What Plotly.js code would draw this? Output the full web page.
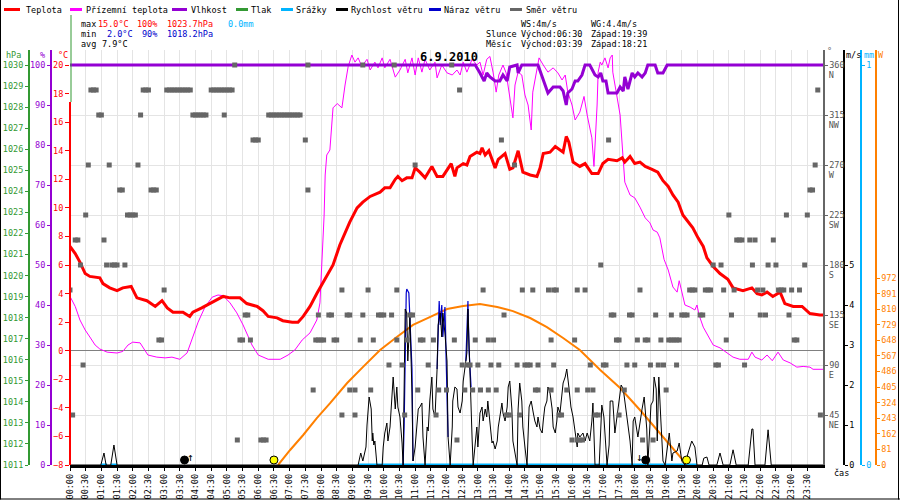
<!DOCTYPE html>
<html><head><meta charset="utf-8">
<script src="https://cdn.plot.ly/plotly-3.0.1.min.js"></script>
<style>html,body{margin:0;padding:0;background:#fff}</style>
</head><body><div id="chart" style="width:900px;height:500px"></div>
<script>
// ---------------- DATA (times in minutes after midnight) ----------------
const xTickLabels = ['00:00','00:30','01:00','01:30','02:00','02:30','03:00','03:30','04:00','04:30','05:00','05:30','06:00','06:30','07:00','07:30','08:00','08:30','09:00','09:30','10:00','10:30','11:00','11:30','12:00','12:30','13:00','13:30','14:00','14:30','15:00','15:30','16:00','16:30','17:00','17:30','18:00','18:30','19:00','19:30','20:00','20:30','21:00','21:30','22:00','22:30','23:00','23:30'];

const tempMin = [0,10,19,29,38,57,63,76,90,101,
117,128,147,163,176,186,197,216,229,235,
252,268,281,293,306,325,338,358,369,379,
396,407,425,436,446,459,472,484,493,503,
516,535,549,560,574,593,602,612,622,627,
635,644,654,660,669,679,692,702,713,729,
736,740,752,759,765,778,784,788,794,801,
813,819,832,841,847,857,866,880,893,899,
905,918,928,943,949,954,962,975,985,998,
1010,1019,1029,1046,1056,1061,1071,1080,1090,1100,
1113,1124,1134,1144,1153,1163,1172,1182,1191,1201,
1211,1218,1230,1243,1258,1268,1287,1304,1314,1323,
1333,1344,1358,1367,1383,1400,1415,1434,1440];
const tempVal = [7.3,6.8,6.2,5.4,5.2,5.1,4.7,4.4,4.2,4.4,
4.5,3.7,3.5,3.1,3.5,3.0,2.7,2.7,2.4,2.7,
3.0,3.3,3.6,3.8,3.7,3.7,3.3,3.1,2.8,2.4,
2.3,2.1,2.0,2.0,2.4,3.1,4.0,4.8,5.3,6.0,
7.4,9.0,10.0,10.4,10.8,11.1,11.4,11.4,12.0,12.2,
11.9,12.1,12.1,12.8,12.5,12.1,12.9,12.2,12.2,13.1,
12.2,12.8,13.1,13.0,13.6,13.9,13.8,14.2,13.7,14.0,
12.8,13.4,13.8,12.7,12.8,14.0,12.5,12.3,12.2,12.8,
13.8,13.9,14.3,13.9,15.0,14.6,13.2,12.9,13.1,12.4,
12.4,13.1,13.4,13.3,13.5,13.2,13.6,13.1,13.2,12.9,
12.7,12.5,11.9,11.5,10.9,10.4,9.5,9.0,8.6,7.9,
7.3,6.5,5.9,5.4,5.0,4.4,4.2,4.4,4.0,3.9,
4.1,3.8,4.1,3.3,3.1,3.1,2.6,2.5,2.5];

const groundMin = [0,10,19,29,38,48,57,71,90,101,
111,120,134,140,149,166,182,195,210,224,
233,245,258,272,283,293,306,319,331,348,
360,379,402,417,430,444,459,472,478,482,
484,486,488,491,497,503,511,520,526,532,
539,545,551,558,568,574,583,589,597,602,
612,622,631,641,646,654,660,666,673,679,
688,698,702,711,721,731,740,746,752,759,
769,778,784,790,797,803,809,815,820,828,
834,840,847,851,857,864,870,876,882,885,
891,897,905,914,924,933,941,947,952,960,
966,975,983,989,998,1002,1008,1010,1014,1017,
1023,1029,1033,1037,1038,1046,1052,1056,1058,1061,
1071,1080,1090,1100,1109,1115,1123,1128,1136,1144,
1153,1161,1165,1170,1176,1186,1195,1199,1203,1211,
1220,1230,1243,1256,1268,1281,1297,1304,1310,1323,
1333,1343,1354,1364,1377,1390,1402,1415,1421,1440];
const groundVal = [3.8,3.1,2.15,1.45,0.96,0.4,0.12,-0.1,-0.16,-0.05,
0.4,0.6,0.55,0.2,-0.3,-0.45,-0.5,-0.45,-0.6,-0.15,
0.75,2.0,3.05,3.75,3.9,3.85,3.35,2.65,1.8,0.4,
-0.3,-0.6,-0.6,-0.3,0.05,0.75,1.25,2.15,3.35,6.3,
7.4,9.5,12.3,13.7,14.05,17.0,17.3,17.0,18.6,19.9,
20.7,20.2,20.5,19.9,20.4,19.65,20.2,19.8,20.5,19.8,
20.4,19.15,19.65,20.4,19.45,20.5,19.3,20.5,19.5,20.4,
19.65,20.2,19.1,20.0,19.45,19.3,19.65,19.3,20.2,19.5,
20.4,20.0,20.2,19.3,20.4,20.6,19.5,18.1,19.3,20.0,
19.45,18.1,16.3,18.6,19.5,19.3,17.9,17.2,15.45,18.1,
19.3,20.5,20.0,19.5,19.8,19.45,18.95,19.3,18.1,17.2,
16.15,16.7,17.8,16.5,14.9,12.9,17.2,19.5,20.2,20.0,
20.5,19.8,20.5,20.7,19.5,17.9,16.5,14.4,13.0,11.8,
10.9,10.7,10.05,9.3,8.95,8.45,8.3,7.9,6.4,5.65,
4.46,4.1,4.9,4.05,3.2,3.05,2.85,3.2,2.5,1.65,
1.1,0.4,0.2,-0.15,-0.45,-0.6,-0.6,-0.1,-0.45,-0.65,
-0.3,-0.7,-0.1,-0.65,-0.85,-1.15,-1.1,-1.15,-1.3,-1.3];

const humMin = [0,775,784,792,797,803,813,822,828,836,841,855,857,864,895,905,914,924,937,943,949,952,960,966,971,979,985,994,1004,1010,1015,1019,1025,1029,1046,1052,1058,1061,1067,1075,1080,1086,1094,1100,1105,1119,1124,1134,1142,1440];
const humVal = [100,100,98,96,98,97,96,96,97.5,96,99.5,100,98,100,100,96,93,94.5,94.5,93.5,90,93,94,96,96,97.5,100,100,97.5,97,98,96,96,93,93,94.5,93.5,97,94,98,97,98,97,98,100,100,98,98,100,100];

const pressMin = [];   // no pressure samples drawn on this day
const pressVal = [];

const solarMin = [398,421,446,472,497,530,560,593,625,656,688,721,752,784,817,847,880,912,943,975,1014,1052,1090,1128,1153,1172,1180];
const solarVal = [0,78,156,244,320,426,509,598,665,728,769,811,826,837,821,800,764,717,660,598,494,400,286,166,88,26,0];

const rainMin = [59,71,null,78,90,null,551,1199];
const rainVal = [0,0,null,0,0,null,0,0];

const windMin = [0,59,65,69,78,84,90,551,556,560,566,568,572,576,578,579,581,583,587,597,599,602,606,608,612,616,618,622,625,627,631,635,637,641,644,646,650,654,656,660,664,666,669,673,675,679,683,685,688,692,694,698,702,704,708,711,713,717,721,723,727,731,732,736,740,742,746,750,752,755,759,761,765,769,771,775,778,780,784,788,790,794,797,799,803,807,809,813,817,819,822,826,828,832,836,838,841,845,847,851,855,857,860,864,866,870,874,878,882,886,889,893,895,899,903,905,908,912,914,918,922,924,928,931,933,937,941,943,947,950,954,958,962,966,970,971,975,981,985,989,994,998,1000,1004,1012,1017,1021,1027,1031,1033,1038,1042,1048,1054,1058,1063,1067,1071,1075,1077,1080,1086,1094,1098,1103,1105,1111,1115,1117,1121,1123,1126,1130,1134,1138,1142,1146,1151,1153,1161,1165,1170,1176,1182,1189,1195,1199,1209,1212,1218,1222,1237,1243,1249,1262,1268,1274,1297,1304,1306,1310,1329,1335,1341,1440];
const windVal = [0,0,0.3,0,0,0.5,0,0,0.3,0.1,0.45,1.0,1.7,1.4,0.6,0.8,0.5,0.6,0,0,0.45,0.8,1.05,0.6,0.95,1.95,2.2,1.4,1.95,1.45,1.2,0.55,0,3.9,3.8,2.6,3.7,1.8,0.1,0.45,1.1,1.4,1.45,1.55,0.7,0,0.95,0.85,1.6,2.2,1.4,1.2,2.4,3.5,3.8,3.2,3.8,3.3,2.6,0.7,0,0.95,1.6,1.95,1.9,1.45,1.3,1.6,2.1,2.45,2.8,3.9,1.95,0.65,0,0.45,0.95,0.45,1.3,1.45,1.1,1.4,1.2,1.6,1.05,0.55,0.6,0.4,0.6,0.95,1.2,1.55,1.3,1.1,1.45,1.95,2.1,1.4,0.6,0.3,0,1.4,2.05,1.6,0.95,0.45,0,1.45,1.6,1.3,1.1,0.95,1.2,0.9,0.8,1.1,1.45,1.6,1.95,1.8,1.4,0.95,0.8,1.1,1.45,1.3,1.8,2.05,2.2,2.4,1.95,1.45,1.2,0.8,0.45,0.8,0.7,0.8,0.6,0.8,0.6,1.1,1.55,0,0,1.5,1.2,0,0.5,1.6,1.6,0.8,1.4,2.0,1.9,1.4,1.0,0.6,0,1.1,1.2,0.7,1.4,1.7,0.9,0,1.5,1.6,2.2,1.9,0.6,2.2,1.1,0.1,0,0.45,0.8,0.1,0.3,0.35,0.55,0.1,0,0.3,0.6,0.45,0,0,0.17,0.2,0,0,0.3,0,0,0.38,0,0,0.9,0.9,0,0,0.88,0,0];

const gustMin = [637,639,643,644,648,650,654,656,null,702,706,708,711,713,717,719,723,null,757,761,763,767];
const gustVal = [0,1.0,4.3,4.4,4.3,3.5,2.4,0.1,null,2.4,4.1,3.5,4.0,3.2,3.95,2.8,0.7,null,2.6,4.1,2.9,1.95];

const dirMin = [0,5,10,15,20,25,30,35,40,45,
50,55,60,65,70,75,80,85,90,95,
100,105,110,115,120,125,130,135,140,145,
150,155,160,165,170,175,180,185,190,195,
200,205,210,215,220,225,230,235,240,245,
250,255,260,270,275,280,285,290,295,295,
300,305,310,315,320,325,330,335,340,345,
350,355,360,365,370,375,380,385,390,395,
400,405,410,415,420,425,430,435,440,450,
455,455,465,470,475,475,480,485,495,500,
505,510,520,520,530,535,535,545,545,555,
560,560,570,575,580,590,595,600,610,615,
620,625,625,635,640,645,650,655,660,665,
670,675,685,695,700,705,720,730,735,740,
745,750,755,760,765,770,775,780,785,790,
800,800,805,810,815,820,825,830,835,840,
850,855,860,865,870,875,880,885,890,895,
895,915,920,920,925,925,930,935,940,950,
960,965,970,970,970,975,980,985,990,995,
1000,1005,1010,1015,1020,1025,1030,1035,1040,1045,
1050,1050,1060,1065,1070,1075,1080,1085,1090,1095,
1100,1105,1110,1115,1120,1125,1130,1135,1140,1145,
1150,1150,1155,1160,1160,1165,1170,1175,1180,1185,
1190,1195,1205,1210,1215,1220,1225,1230,1235,1240,
1245,1250,1255,1260,1265,1270,1275,1280,1285,1290,
1300,1305,1310,1315,1320,1325,1330,1335,1345,1350,
1355,1360,1365,1370,1375,1380,1385,1390,1395,1405,
1410,1415,1420,1425,1430,1435];
const dirDeg = [157.5,45,202.5,202.5,180,90,225,270,337.5,337.5,
337.5,315,315,202.5,180,270,180,180,180,247.5,
247.5,180,225,225,225,225,270,315,337.5,337.5,
337.5,247.5,247.5,247.5,112.5,112.5,157.5,337.5,337.5,337.5,
337.5,337.5,337.5,337.5,337.5,337.5,337.5,315,315,315,
315,315,315,337.5,337.5,337.5,337.5,337.5,337.5,315,
337.5,337.5,337.5,360,22.5,112.5,112.5,135,135,112.5,
292.5,292.5,292.5,22.5,22.5,22.5,315,315,315,315,
315,315,315,315,315,315,315,315,315,292.5,
360,247.5,67.5,112.5,112.5,135,112.5,112.5,135,135,
112.5,112.5,157.5,45,135,135,67.5,67.5,45,112.5,
135,360,157.5,67.5,112.5,135,135,135,90,135,
360,157.5,112.5,90,45,112.5,135,135,270,67.5,
112.5,112.5,90,112.5,45,67.5,67.5,360,112.5,22.5,
337.5,90,67.5,90,90,67.5,112.5,90,67.5,157.5,
112.5,67.5,90,112.5,67.5,90,292.5,135,45,45,
270,90,45,157.5,90,90,90,157.5,67.5,67.5,
90,157.5,112.5,67.5,157.5,90,157.5,45,45,67.5,
22.5,112.5,157.5,67.5,22.5,22.5,22.5,157.5,67.5,90,
67.5,45,45,180,90,90,292.5,135,135,112.5,
112.5,45,67.5,90,135,135,90,112.5,157.5,22.5,
112.5,112.5,90,22.5,135,90,112.5,90,67.5,112.5,
112.5,135,112.5,112.5,90,112.5,135,135,135,157.5,
157.5,157.5,135,135,157.5,157.5,157.5,180,90,90,
180,157.5,112.5,225,135,157.5,202.5,202.5,202.5,90,
202.5,180,202.5,157.5,135,157.5,135,180,202.5,180,
157.5,157.5,157.5,225,135,157.5,112.5,112.5,157.5,180,
225,247.5,247.5,270,337.5,45];

const sunTimes = ['06:30','19:39'];
const moonTimes = ['03:39','18:21'];

const tempTicks = [-8,-6,-4,-2,0,2,4,6,8,10,12,14,16,18,20];
const humTicks = [0,10,20,30,40,50,60,70,80,90,100];
const pressTicks = [1011,1012,1013,1014,1015,1016,1017,1018,1019,1020,1021,1022,1023,1024,1025,1026,1027,1028,1029,1030];
const dirTicks = [45,90,135,180,225,270,315,360];
const dirNums = ['45','90','135','180','225','270','315','360'];
const dirNames = ['NE','E','SE','S','SW','W','NW','N'];
const windTicks = [0,1,2,3,4,5];
const rainTicks = [0,1];
const solarTicks = [0,81,162,243,324,405,486,567,648,729,810,891,972];

const legendNames = ['Teplota','Přízemní teplota','Vlhkost','Tlak','Srážky','Rychlost větru','Náraz větru','Směr větru'];

// ---------------- STYLE ----------------
const F = 'DejaVu Sans Mono', FS = 8.5;
const RED='#ff0000', MAG='#ff00ff', PUR='#9400d3', GRN='#339933', CYAN='#00b4ff',
      BLK='#000000', BLUE='#0000cc', GRAY='#666666', ORG='#ff8000', GRID='#e4e4e4';
const legendColors = [RED, MAG, PUR, GRN, CYAN, BLK, BLUE, GRAY];
const W = 900, H = 500;
const PL = 70, PR = 823, PT = 50, PB = 465;      // plot box in pixels
const px = v => v / W, py = v => 1 - v / H;
const toMin = s => { const p = s.split(':'); return (+p[0]) * 60 + (+p[1]); };
const markY = 0.125;   // m/s level for sun / moon symbols

const traces = [
  {x: groundMin, y: groundVal, yaxis:'y', mode:'lines', line:{color:MAG, width:1}, name:'Přízemní teplota'},
  {x: tempMin, y: tempVal, yaxis:'y', mode:'lines', line:{color:RED, width:3}, name:'Teplota'},
  {x: humMin, y: humVal, yaxis:'y2', mode:'lines', line:{color:PUR, width:3}, name:'Vlhkost'},
  {x: pressMin, y: pressVal, yaxis:'y3', mode:'lines', line:{color:GRN, width:2}, name:'Tlak'},
  {x: solarMin, y: solarVal, yaxis:'y4', mode:'lines', line:{color:ORG, width:2}, name:'Sluneční záření'},
  {x: rainMin, y: rainVal, yaxis:'y5', mode:'lines', line:{color:CYAN, width:3}, connectgaps:false, name:'Srážky'},
  {x: gustMin, y: gustVal, yaxis:'y6', mode:'lines', line:{color:BLUE, width:1.2}, connectgaps:false, name:'Náraz větru'},
  {x: windMin, y: windVal, yaxis:'y6', mode:'lines', line:{color:BLK, width:1}, name:'Rychlost větru'},
  {x: sunTimes.map(toMin), y: sunTimes.map(() => markY), yaxis:'y6', mode:'markers',
   marker:{symbol:'circle', size:8, color:'#ffff00', line:{color:'#000', width:1}}, name:'Slunce'},
  {x: moonTimes.map(toMin), y: moonTimes.map(() => markY), yaxis:'y6', mode:'markers',
   marker:{symbol:'circle', size:8, color:'#000', line:{color:'#000', width:1}}, name:'Měsíc'},
  {x: dirMin, y: dirDeg, yaxis:'y7', mode:'markers', marker:{symbol:'square', size:5, color:GRAY, line:{width:0}}, name:'Směr větru'},
  {x: [], y: [], yaxis:'y8', mode:'lines', name:''}
];

const tf = c => ({family:F, size:FS, color:c});
function side(o){ return Object.assign({overlaying:'y', showgrid:false, zeroline:false, ticks:'outside', ticklen:3, showline:true, linewidth:1.5, fixedrange:true}, o); }

const annotations = [];
function txt(t, x, y, c, o){ annotations.push(Object.assign({xref:'paper', yref:'paper', x:px(x), y:py(y), text:t, showarrow:false,
  xanchor:'left', yanchor:'middle', borderpad:0, font:{family:F, size:FS, color:c}}, o||{})); }
const shapes = [];
function seg(x0,y0,x1,y1,c,w){ shapes.push({type:'line', xref:'paper', yref:'paper', x0:px(x0), y0:py(y0), x1:px(x1), y1:py(y1), line:{color:c, width:w}}); }

// legend row
const legLine = [[4,20],[70,82],[172,187],[236,248],[281,293],[336,348],[429,441],[510,522]];
const legText = [25,85,190,250,295,350,443,525];
legendNames.forEach((n,i) => { seg(legLine[i][0],9.5,legLine[i][1],9.5,legendColors[i],3); txt(n, legText[i], 9.5, BLK); });

// statistics block
txt('max',80,24,BLK); txt('15.0°C',97,24,RED); txt('100%',136,24,RED); txt('1023.7hPa',166,24,RED); txt('0.0mm',227,24,CYAN);
txt('min',80,34,BLK); txt('2.0°C',106,34,BLUE); txt('90%',141,34,BLUE); txt('1018.2hPa',166,34,BLUE);
txt('avg',80,44,BLK); txt('7.9°C',101,44,BLK);
txt('WS:4m/s',520,24,BLK); txt('WG:4.4m/s',590,24,BLK);
txt('Slunce',485,34,BLK); txt('Východ:'+sunTimes[0],520,34,BLK); txt('Západ:'+sunTimes[1],590,34,BLK);
txt('Měsíc',485,44,BLK); txt('Východ:'+moonTimes[0],520,44,BLK); txt('Západ:'+moonTimes[1],590,44,BLK);

// axis titles
txt('hPa',5,55,GRN); txt('%',39,55,PUR); txt('°C',57,55,RED);
txt('°',826,51,GRAY); txt('m/s',845,55,BLK); txt('mm',863,55,CYAN); txt('W',877,55,ORG);
txt('čas',833,473,BLK);

// moon rise / set arrows
annotations.push({xref:'x', yref:'y6', x:toMin(moonTimes[0]), y:0.2, text:'↑', showarrow:false, xshift:6, font:{family:F, size:11, color:BLK}});
annotations.push({xref:'x', yref:'y6', x:toMin(moonTimes[1]), y:0.2, text:'↓', showarrow:false, xshift:-6, font:{family:F, size:11, color:BLK}});

// frame and left edge lines
seg(0.5,0,0.5,499.5,BLK,1); seg(898.5,0,898.5,499.5,BLK,1); seg(0,499,900,499,BLK,1);
seg(71,15,71,102,GRN,1); seg(70,102,70,PB,RED,2);

const layout = {
  width:W, height:H, margin:{l:0, r:0, t:0, b:0}, paper_bgcolor:'#fff', plot_bgcolor:'#fff',
  showlegend:false, hovermode:false, font:{family:F, size:FS, color:BLK},
  title:{text:'<b>6.9.2010</b>', x:px(449), xanchor:'center', y:py(57), yanchor:'middle', xref:'paper', yref:'paper', font:{family:F, size:12, color:BLK}},
  xaxis:{domain:[px(PL), px(PR)], range:[0,1440], tickvals:xTickLabels.map(toMin), ticktext:xTickLabels, tickangle:-90,
    tickfont:tf(BLK), showgrid:true, gridcolor:GRID, gridwidth:1, showline:true, linecolor:BLK, linewidth:2.5,
    ticks:'outside', ticklen:3, tickcolor:BLK, zeroline:false, layer:'below traces', fixedrange:true},
  yaxis:{domain:[1-PB/H, 1-PT/H], range:[-8, 20 + 15*28/400], tickvals:tempTicks, tickfont:tf(RED), ticks:'outside', ticklen:4,
    tickcolor:RED, showline:false, showgrid:false, zeroline:true, zerolinecolor:'#808080', zerolinewidth:1, fixedrange:true},
  yaxis2: side({range:[0, 100 + 15*100/400], tickvals:humTicks, anchor:'free', position:px(50), side:'left', linecolor:PUR, tickcolor:PUR, tickfont:tf(PUR)}),
  yaxis3: side({range:[1011, 1030 + 15*19/400], tickvals:pressTicks, anchor:'free', position:px(28), side:'left', linecolor:GRN, tickcolor:GRN, tickfont:tf(GRN)}),
  yaxis4: side({range:[0, 972*415/187], tickvals:solarTicks, anchor:'free', position:px(875), side:'right', linecolor:ORG, tickcolor:ORG, tickfont:tf(ORG)}),
  yaxis5: side({range:[0, 1 + 15/400], tickvals:rainTicks, anchor:'free', position:px(860), side:'right', linecolor:CYAN, tickcolor:CYAN, tickfont:tf(CYAN)}),
  yaxis6: side({range:[0, 5 + 215/40], tickvals:windTicks, anchor:'free', position:px(843), side:'right', linecolor:BLK, tickcolor:BLK, tickfont:tf(BLK)}),
  yaxis7: side({range:[0, 360 + 15*360/400], tickvals:dirTicks, ticktext:dirNums, anchor:'x', side:'right', linecolor:GRAY, tickcolor:GRAY,
    tickfont:tf('#555'), showgrid:true, gridcolor:GRID, gridwidth:1}),
  yaxis8: side({range:[0, 360 + 15*360/400], tickvals:dirTicks, ticktext:dirNames, anchor:'x', side:'right', showline:false,
    tickcolor:'rgba(0,0,0,0)', tickfont:tf('#555'), ticklabelshift:10}),
  annotations, shapes
};

Plotly.newPlot('chart', traces, layout, {displayModeBar:false, staticPlot:true});
</script></body></html>
